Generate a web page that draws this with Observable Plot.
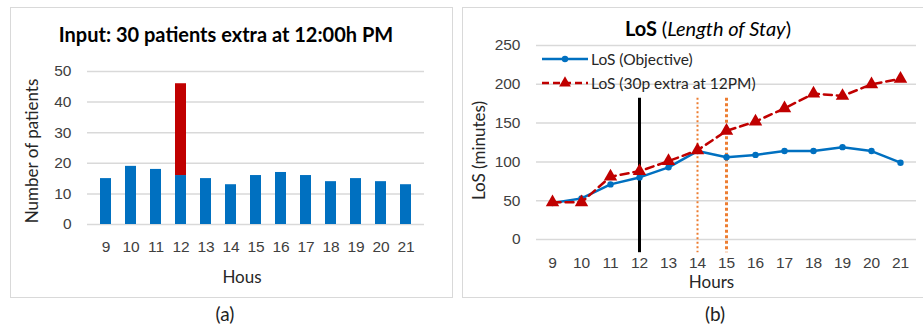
<!DOCTYPE html>
<html>
<head>
<meta charset="utf-8">
<script src="https://cdn.jsdelivr.net/npm/d3@7"></script>
<script src="https://cdn.jsdelivr.net/npm/@observablehq/plot@0.6"></script>
<style>
  html, body { margin: 0; padding: 0; background: #fff; }
  #wrap { position: relative; width: 923px; height: 327px; overflow: hidden; font-family: Lato, "Open Sans", sans-serif; }
  .box { position: absolute; border: 1.5px solid #d9d9d9; box-sizing: border-box; }
  .abs { position: absolute; white-space: nowrap; transform: translate(-50%, -50%); }
  .title { font-weight: 700; font-size: 20px; color: #000; }
  .cap { font-size: 19px; color: #222; }
  .chart { position: absolute; }
  .leg { position: absolute; display: flex; align-items: center; font-size: 15.5px; color: #262626; white-space: nowrap; }
  .leg svg { margin-right: 3px; }
</style>
</head>
<body>
<div id="wrap">
  <div class="box" style="left:10px;top:7px;width:443px;height:291px;"></div>
  <div class="box" style="left:462px;top:7px;width:470px;height:291px;"></div>
  <div id="chartA" class="chart" style="left:10px;top:7px;"></div>
  <div id="chartB" class="chart" style="left:463px;top:7px;"></div>
  <div class="abs title" style="left:226px;top:34px;">Input: 30 patients extra at 12:00h PM</div>
  <div class="abs title" style="left:708px;top:28px;">LoS <span style="font-weight:400">(</span><span style="font-weight:400;font-style:italic">Length of Stay</span><span style="font-weight:400">)</span></div>
  <div class="abs cap" style="left:225px;top:313px;">(a)</div>
  <div class="abs cap" style="left:715px;top:313px;">(b)</div>
  <div id="legend"></div>
</div>
<script>
// ---- data ----
const hours = [9, 10, 11, 12, 13, 14, 15, 16, 17, 18, 19, 20, 21];
const patientsBase = [15, 19, 18, 16, 15, 13, 16, 17, 16, 14, 15, 14, 13];
const patientsExtra = [0, 0, 0, 30, 0, 0, 0, 0, 0, 0, 0, 0, 0];
const losObjective = [47, 53, 71, 80, 93, 114, 106, 109, 114, 114, 119, 114, 99];
const losExtra = [48, 48, 81, 88, 101, 115, 140, 152, 169, 188, 185, 200, 207];
const patientTicks = [0, 10, 20, 30, 40, 50];
const losTicks = [0, 50, 100, 150, 200, 250];
const seriesNames = ["LoS (Objective)", "LoS (30p extra at 12PM)"];
const eventHour = 12;
const impactHours = [14, 15];
const markerSpan = [182, -17];

const BLUE = "#0070C0", RED = "#C00000", ORANGE = "#ED7D31", GRID = "#d9d9d9";
const TICKFONT = "'Liberation Sans', Arial, sans-serif";
const LABELFONT = "Lato, 'Open Sans', sans-serif";

// ---- chart (a) ----
const barData = [];
hours.forEach((h, i) => {
  barData.push({hour: h, value: patientsBase[i], part: "base"});
  barData.push({hour: h, value: patientsExtra[i], part: "extra"});
});

const chartA = Plot.plot({
  width: 443, height: 290,
  marginLeft: 77, marginRight: 29, marginTop: 64, marginBottom: 73,
  style: {background: "transparent", color: "#404040"},
  x: {type: "band", domain: hours, padding: 0},
  y: {domain: [0, 50]},
  color: {domain: ["base", "extra"], range: [BLUE, RED]},
  marks: [
    Plot.ruleY(patientTicks, {stroke: GRID, strokeWidth: 1.5}),
    Plot.barY(barData, {x: "hour", y: "value", fill: "part", insetLeft: 7, insetRight: 7}),
    Plot.axisX({tickSize: 0, tickPadding: 16, fontSize: 15.5, fontFamily: TICKFONT, label: null}),
    Plot.axisY({ticks: patientTicks, tickSize: 0, tickPadding: 16, fontSize: 15.5, fontFamily: TICKFONT, label: null}),
    Plot.text(["Hous"], {frameAnchor: "bottom", dx: -14, dy: 53, fontSize: 17, fontFamily: LABELFONT, fill: "#262626", lineAnchor: "middle", textAnchor: "middle"}),
    Plot.text(["Number of patients"], {frameAnchor: "left", rotate: -90, dx: -55, dy: 3, fontSize: 17, fontFamily: LABELFONT, fill: "#262626", lineAnchor: "middle", textAnchor: "middle"})
  ]
});
document.getElementById("chartA").append(chartA);

// ---- chart (b) ----
const lineData = hours.map((h, i) => ({hour: h, obj: losObjective[i], extra: losExtra[i]}));

const chartB = Plot.plot({
  width: 460, height: 290,
  marginLeft: 73, marginRight: 7, marginTop: 38, marginBottom: 58,
  style: {background: "transparent", color: "#404040"},
  x: {type: "point", domain: hours, padding: 0.5},
  y: {domain: [0, 250]},
  marks: [
    Plot.ruleY(losTicks, {stroke: GRID, strokeWidth: 1.5}),
    Plot.ruleX([eventHour], {y1: markerSpan[0], y2: markerSpan[1], stroke: "#000", strokeWidth: 3}),
    Plot.ruleX([impactHours[0]], {y1: markerSpan[0], y2: markerSpan[1], stroke: ORANGE, strokeWidth: 2, strokeDasharray: "2,2.5"}),
    Plot.ruleX([impactHours[1]], {y1: markerSpan[0], y2: markerSpan[1], stroke: ORANGE, strokeWidth: 3, strokeDasharray: "3,2.5"}),
    Plot.line(lineData, {x: "hour", y: "obj", stroke: BLUE, strokeWidth: 2.5}),
    Plot.dot(lineData, {x: "hour", y: "obj", fill: BLUE, r: 3.2}),
    Plot.line(lineData, {x: "hour", y: "extra", stroke: RED, strokeWidth: 2.5, strokeDasharray: "8,5"}),
    Plot.dot(lineData, {x: "hour", y: "extra", fill: RED, symbol: "triangle", r: 5}),
    Plot.axisX({tickSize: 0, tickPadding: 17, fontSize: 15.5, fontFamily: TICKFONT, label: null}),
    Plot.axisY({ticks: losTicks, tickSize: 0, tickPadding: 16, fontSize: 15.5, fontFamily: TICKFONT, label: null}),
    Plot.text(["Hours"], {frameAnchor: "bottom", dx: -15, dy: 43, fontSize: 17, fontFamily: LABELFONT, fill: "#262626", lineAnchor: "middle", textAnchor: "middle"}),
    Plot.text(["LoS (minutes)"], {frameAnchor: "left", rotate: -90, dx: -57, dy: 8, fontSize: 17, fontFamily: LABELFONT, fill: "#262626", lineAnchor: "middle", textAnchor: "middle"})
  ]
});
document.getElementById("chartB").append(chartB);

// ---- legend (b) ----
const legend = document.getElementById("legend");
const legendItems = [
  {name: seriesNames[0], color: BLUE, dash: null, sym: "circle", top: 59},
  {name: seriesNames[1], color: RED, dash: "7,4", sym: "triangle", top: 83}
];
legendItems.forEach(it => {
  const div = document.createElement("div");
  div.className = "leg";
  div.style.left = "542px";
  div.style.top = (it.top - 10) + "px";
  div.style.height = "20px";
  const sw = d3.create("svg").attr("width", 46).attr("height", 20);
  sw.append("line").attr("x1", 0).attr("x2", 46).attr("y1", 10).attr("y2", 10)
    .attr("stroke", it.color).attr("stroke-width", 2.5).attr("stroke-dasharray", it.dash);
  sw.append("path").attr("transform", "translate(23,10)")
    .attr("d", d3.symbol(it.sym === "circle" ? d3.symbolCircle : d3.symbolTriangle, it.sym === "circle" ? 32 : 60)())
    .attr("fill", it.color);
  div.append(sw.node());
  const t = document.createElement("span");
  t.textContent = it.name;
  div.append(t);
  legend.append(div);
});
</script>
</body>
</html>
